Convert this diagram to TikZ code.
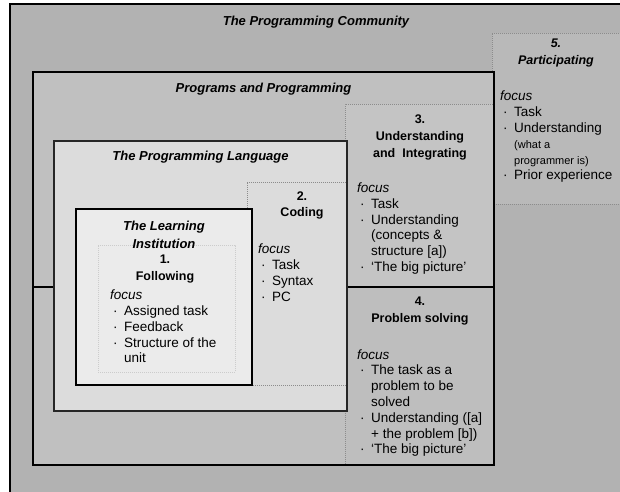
\documentclass[tikz,border=0pt]{standalone}
\usepackage{fontspec}
\setmainfont{Liberation Sans}
\usetikzlibrary{positioning}

\definecolor{commfill}{HTML}{B2B2B2}
\definecolor{partfill}{HTML}{B9B9B9}
\definecolor{progfill}{HTML}{C0C0C0}
\definecolor{undfill}{HTML}{C4C4C4}
\definecolor{probfill}{HTML}{BEBEBE}
\definecolor{langfill}{HTML}{DCDCDC}
\definecolor{learnfill}{HTML}{EBEBEB}
\definecolor{dotgray}{HTML}{8C8C8C}

% bullet and hanging indent for the focus lists
\newcommand{\itm}{\makebox[14pt][l]{\hspace{3pt}·}}
\newcommand{\cnt}{\hspace*{14pt}}

\tikzset{
  panel/.style={rectangle, anchor=north west, inner sep=0pt, outer sep=0pt},
  solidpanel/.style={panel, draw=black, line width=1.6pt},
  dotpanel/.style={panel, draw=dotgray, line width=0.5pt, dash pattern=on 0.7pt off 1.3pt},
  heading/.style={font=\fontsize{13}{17.5}\selectfont\bfseries\itshape, align=center, inner sep=0pt},
  stage/.style={font=\fontsize{12.5}{16.5}\selectfont\bfseries, align=center, inner sep=0pt},
  focuslist/.style={font=\fontsize{13.5}{15.8}\selectfont, align=left, anchor=west, inner sep=0pt},
}

\begin{document}
\begin{tikzpicture}[x=1pt, y=-1pt]
  \useasboundingbox (0,0) rectangle (620,491);
  \clip (0,0) rectangle (620,491);

  % the community around everything
  \node[solidpanel, fill=commfill, minimum width=640pt, minimum height=520pt] (community) at (10,4) {};
  \node[heading] (commtitle) at (316,22) {The Programming Community};

  % 5. participating
  \node[dotpanel, fill=partfill, minimum width=140pt, minimum height=171pt] (part5) at (492,33) {};
  \node[stage, font=\fontsize{12.5}{16.5}\selectfont\bfseries\itshape] (part5head) at (556,53) {5.\\Participating};
  \node[focuslist] (part5list) at (500,137) {\textit{focus}\\
    \itm Task\\
    \itm Understanding\\
    \cnt{\fontsize{11}{15.8}\selectfont(what a}\\
    \cnt{\fontsize{11}{15.8}\selectfont programmer is)}\\
    \itm Prior experience};

  % programs and programming
  \node[solidpanel, line width=2pt, fill=progfill, minimum width=461pt, minimum height=393pt] (programs) at (33,72) {};
  \node[heading, below=11pt of programs.north] (progtitle) {Programs and Programming};

  \node[dotpanel, fill=undfill, minimum width=149pt, minimum height=182pt] (part3) at (345,104) {};
  \node[dotpanel, fill=probfill, minimum width=149pt, minimum height=178pt] (part4) at (345,287) {};
  \draw[line width=1.6pt] (programs.west |- part4.north) -- (part4.north east);
  \draw[line width=2pt] (programs.north west) rectangle (programs.south east);

  \node[stage, font=\fontsize{12.5}{17}\selectfont\bfseries] (part3head) at (420,137) {3.\\Understanding\\and~ Integrating};
  \node[focuslist] (part3list) at (357,228.5) {\textit{focus}\\
    \itm Task\\
    \itm Understanding\\
    \cnt(concepts \&\\
    \cnt structure [a])\\
    \itm ‘The big picture’};

  \node[stage] (part4head) at (420,311) {4.\\Problem solving};
  \node[focuslist] (part4list) at (357,403) {\textit{focus}\\
    \itm The task as a\\
    \cnt problem to be\\
    \cnt solved\\
    \itm Understanding ([a]\\
    \cnt + the problem [b])\\
    \itm ‘The big picture’};

  % the programming language
  \node[panel, draw=black!85, line width=1.3pt, fill=langfill, minimum width=293pt, minimum height=270pt] (language) at (54,141) {};
  \node[heading, below=10pt of language.north] (langtitle) {The Programming Language};

  \node[dotpanel, fill=langfill, minimum width=100pt, minimum height=203pt] (part2) at (247,182) {};
  \draw[draw=black!85, line width=1.3pt] (language.north west) rectangle (language.south east);
  \node[stage] (part2head) at (302,205.5) {2.\\Coding};
  \node[focuslist] (part2list) at (258,272.5) {\textit{focus}\\
    \itm Task\\
    \itm Syntax\\
    \itm PC};

  % the learning institution
  \node[solidpanel, line width=2pt, fill=learnfill, minimum width=176pt, minimum height=176pt] (learning) at (76,209) {};
  \node[dotpanel, draw=black!20, minimum width=137pt, minimum height=127pt] (part1) at (98,245) {};
  \node[heading] (learntitle) at (164,235) {The Learning\\Institution};
  \node[stage] (part1head) at (165,269) {1.\\Following};
  \node[focuslist] (part1list) at (110,326.5) {\textit{focus}\\
    \itm Assigned task\\
    \itm Feedback\\
    \itm Structure of the\\
    \cnt unit};
\end{tikzpicture}
\end{document}
